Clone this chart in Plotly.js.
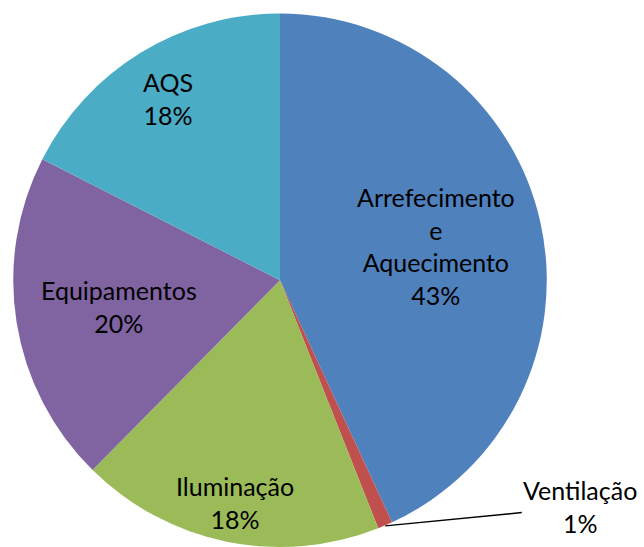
<!DOCTYPE html>
<html>
<head>
<meta charset="utf-8">
<script src="https://cdn.plot.ly/plotly-3.0.1.min.js"></script>
<style>
  html, body { margin: 0; padding: 0; background: #fff; }
  #chart { width: 644px; height: 547px; }
</style>
</head>
<body>
<div id="chart"></div>
<script>
// consumption shares, clockwise from 12 o'clock
const labels = ['Arrefecimento<br>e<br>Aquecimento', 'Ventilação', 'Iluminação', 'Equipamentos', 'AQS'];
const values = [43.1, 0.9, 18.4, 20.1, 17.5];
const colors = ['#4F81BD', '#C0504D', '#9BBB59', '#8064A2', '#4BACC6'];

// where each label sits, as a fraction of the radius (Excel "best fit" look)
const labelRadius = [0.6, 1.0, 0.85, 0.61, 0.8];

const W = 644, H = 547;
const cx = 280, cy = 280.5, R = 267;

const total = values.reduce((a, b) => a + b, 0);
const annotations = [];
let cum = 0;
values.forEach((v, i) => {
    const mid = (cum + v / 2) / total * 2 * Math.PI;
    cum += v;
    const pct = Math.round(v / total * 100) + '%';
    const r = R * labelRadius[i];
    const px = cx + r * Math.sin(mid);
    const py = cy - r * Math.cos(mid);
    const ann = {
        x: px / W, y: 1 - py / H, xref: 'paper', yref: 'paper',
        xanchor: 'center', yanchor: 'middle',
        text: labels[i] + '<br>' + pct,
        showarrow: false,
        font: { family: 'Lato, sans-serif', size: 25, color: '#000' },
        align: 'center'
    };
    if (labelRadius[i] >= 1) {
        // small slice: label outside with a leader line
        ann.showarrow = true;
        ann.arrowhead = 0;
        ann.arrowwidth = 1.5;
        ann.arrowcolor = '#000';
        ann.ax = 195;
        ann.ay = -19;
    }
    annotations.push(ann);
});

const data = [{
    type: 'pie',
    labels: labels,
    values: values,
    sort: false,
    direction: 'clockwise',
    rotation: 0,
    textinfo: 'none',
    hoverinfo: 'label+percent',
    marker: { colors: colors, line: { width: 0 } },
    domain: { x: [(cx - R) / W, (cx + R) / W], y: [Math.max(0, 1 - (cy + R) / H), 1 - (cy - R) / H] }
}];

const layout = {
    width: W,
    height: H,
    margin: { l: 0, r: 0, t: 0, b: 0 },
    showlegend: false,
    paper_bgcolor: '#fff',
    annotations: annotations
};

Plotly.newPlot('chart', data, layout, { displayModeBar: false, staticPlot: true });
</script>
</body>
</html>
